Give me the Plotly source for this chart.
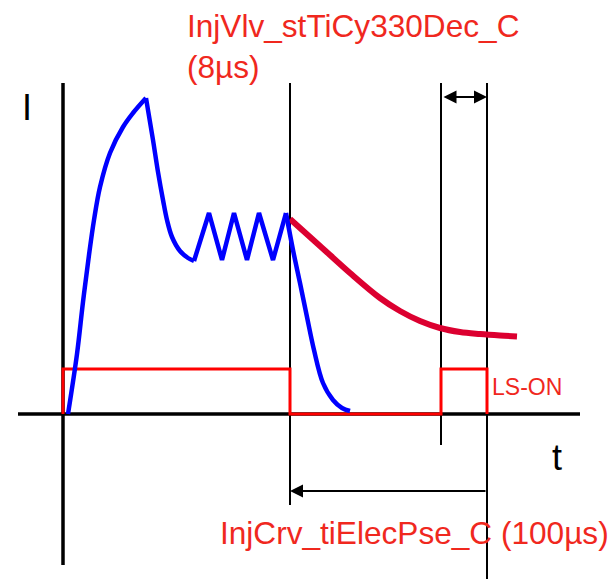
import plotly.graph_objects as go

# ---- data (time t and current I in arbitrary diagram units) ----
blue_t = [2.5, 7.0, 10.0, 13.0, 15.5, 18.5, 23.5, 30.0, 35.0, 41.5,
          45.0, 47.5, 50.0, 52.0, 54.5, 58.5, 62.5, 65.5,
          73.0, 79.5, 85.5, 92.0, 98.0, 105.0, 111.5,
          115.0, 118.5, 122.0, 125.5, 130.0, 135.0, 139.5, 143.5]
blue_i = [0.0, 30.0, 56.0, 79.5, 97.0, 113.5, 130.5, 143.5, 150.5, 158.0,
          137.0, 121.0, 107.0, 97.0, 88.5, 81.5, 78.0, 76.5,
          100.5, 77.0, 100.5, 77.0, 100.5, 77.0, 100.5,
          82.0, 65.5, 48.5, 32.0, 15.5, 7.0, 3.0, 1.5]

decay_t = [113.5, 128.5, 143.5, 158.5, 168.5, 178.5, 188.5, 198.5, 208.5, 218.5, 227.0]
decay_i = [97.5, 84.0, 70.5, 58.0, 51.5, 46.5, 43.0, 41.0, 40.0, 39.25, 38.75]

pulse_t = [0.0, 0.0, 113.5, 113.5, 189.0, 189.0, 212.0, 212.0]
pulse_i = [0.0, 22.5, 22.5, 0.0, 0.0, 22.5, 22.5, 0.0]

# vertical marker lines: time, lower end
marker_t = [113.5, 189.0, 212.0]
marker_bottom = [-45.5, -15.5, -83.0]
marker_top = 165.5

axis_t_range = [-22.5, 258.5]
axis_i_range = [-75.5, 165.5]

x_min, x_max = -31.5, 275.5
y_min, y_max = -82.5, 207.0

label_title = "InjVlv_stTiCy330Dec_C<br>(8µs)"
label_bottom = "InjCrv_tiElecPse_C (100µs)"
label_ls = "LS-ON"

RED_TXT = "#F0281E"
FONT = "Liberation Sans, Arial, sans-serif"

# segments of the blue current curve: smooth rise, smooth drop, chopper zigzag, smooth fall
segments = [(0, 10, "spline"), (9, 18, "spline"), (17, 25, "linear"), (24, 33, "spline")]

fig = go.Figure()

fig.add_trace(go.Scatter(x=pulse_t, y=pulse_i, mode="lines",
                         line=dict(color="#FF0000", width=3), hoverinfo="skip"))
fig.add_trace(go.Scatter(x=decay_t, y=decay_i, mode="lines",
                         line=dict(color="#DC0030", width=6, shape="spline"), hoverinfo="skip"))
for a, b, shp in segments:
    fig.add_trace(go.Scatter(x=blue_t[a:b], y=blue_i[a:b], mode="lines",
                             line=dict(color="#0000FF", width=4.5, shape=shp), hoverinfo="skip"))

shapes = []
# main axes
shapes.append(dict(type="line", xref="x", yref="y", x0=axis_t_range[0], x1=axis_t_range[1],
                   y0=0, y1=0, line=dict(color="black", width=3.5), layer="below"))
shapes.append(dict(type="line", xref="x", yref="y", x0=0, x1=0,
                   y0=axis_i_range[0], y1=axis_i_range[1], line=dict(color="black", width=3.5), layer="below"))
for t, b in zip(marker_t, marker_bottom):
    shapes.append(dict(type="line", xref="x", yref="y", x0=t, x1=t, y0=b, y1=marker_top,
                       line=dict(color="black", width=2), layer="below"))

annotations = []
# double arrow between LS markers
annotations.append(dict(x=marker_t[2], y=158.5, ax=marker_t[1] + 0.5, ay=158.5,
                        xref="x", yref="y", axref="x", ayref="y", text="",
                        showarrow=True, arrowhead=2, arrowside="end+start",
                        arrowsize=1.3, arrowwidth=2, arrowcolor="black", standoff=0, startstandoff=0))
# pause arrow
annotations.append(dict(x=marker_t[0], y=-38.5, ax=marker_t[2], ay=-38.5,
                        xref="x", yref="y", axref="x", ayref="y", text="",
                        showarrow=True, arrowhead=2, arrowsize=1.3, arrowwidth=2,
                        arrowcolor="black", standoff=0))
annotations.append(dict(x=61.0, y=204.0, xref="x", yref="y", text=label_title,
                        showarrow=False, xanchor="left", yanchor="top", align="left",
                        font=dict(family=FONT, size=31.6, color=RED_TXT)))
annotations.append(dict(x=77.5, y=-49.5, xref="x", yref="y", text=label_bottom,
                        showarrow=False, xanchor="left", yanchor="top", align="left",
                        font=dict(family=FONT, size=31.6, color=RED_TXT)))
annotations.append(dict(x=213.5, y=13.5, xref="x", yref="y", text=label_ls,
                        showarrow=False, xanchor="left", yanchor="middle",
                        font=dict(family=FONT, size=23, color=RED_TXT)))
annotations.append(dict(x=-18.0, y=153.5, xref="x", yref="y", text="I",
                        showarrow=False, xanchor="center", yanchor="middle",
                        font=dict(family=FONT, size=36, color="black")))
annotations.append(dict(x=247.0, y=-21.5, xref="x", yref="y", text="t",
                        showarrow=False, xanchor="center", yanchor="middle",
                        font=dict(family=FONT, size=36, color="black")))

fig.update_layout(
    width=614, height=579, autosize=False,
    margin=dict(l=0, r=0, t=0, b=0, pad=0),
    paper_bgcolor="white", plot_bgcolor="white",
    showlegend=False,
    xaxis=dict(range=[x_min, x_max], visible=False, fixedrange=True),
    yaxis=dict(range=[y_min, y_max], visible=False, fixedrange=True),
    shapes=shapes, annotations=annotations,
)

fig.write_html("out.html", config={"displayModeBar": False},
               post_script="document.body.style.margin='0';")
